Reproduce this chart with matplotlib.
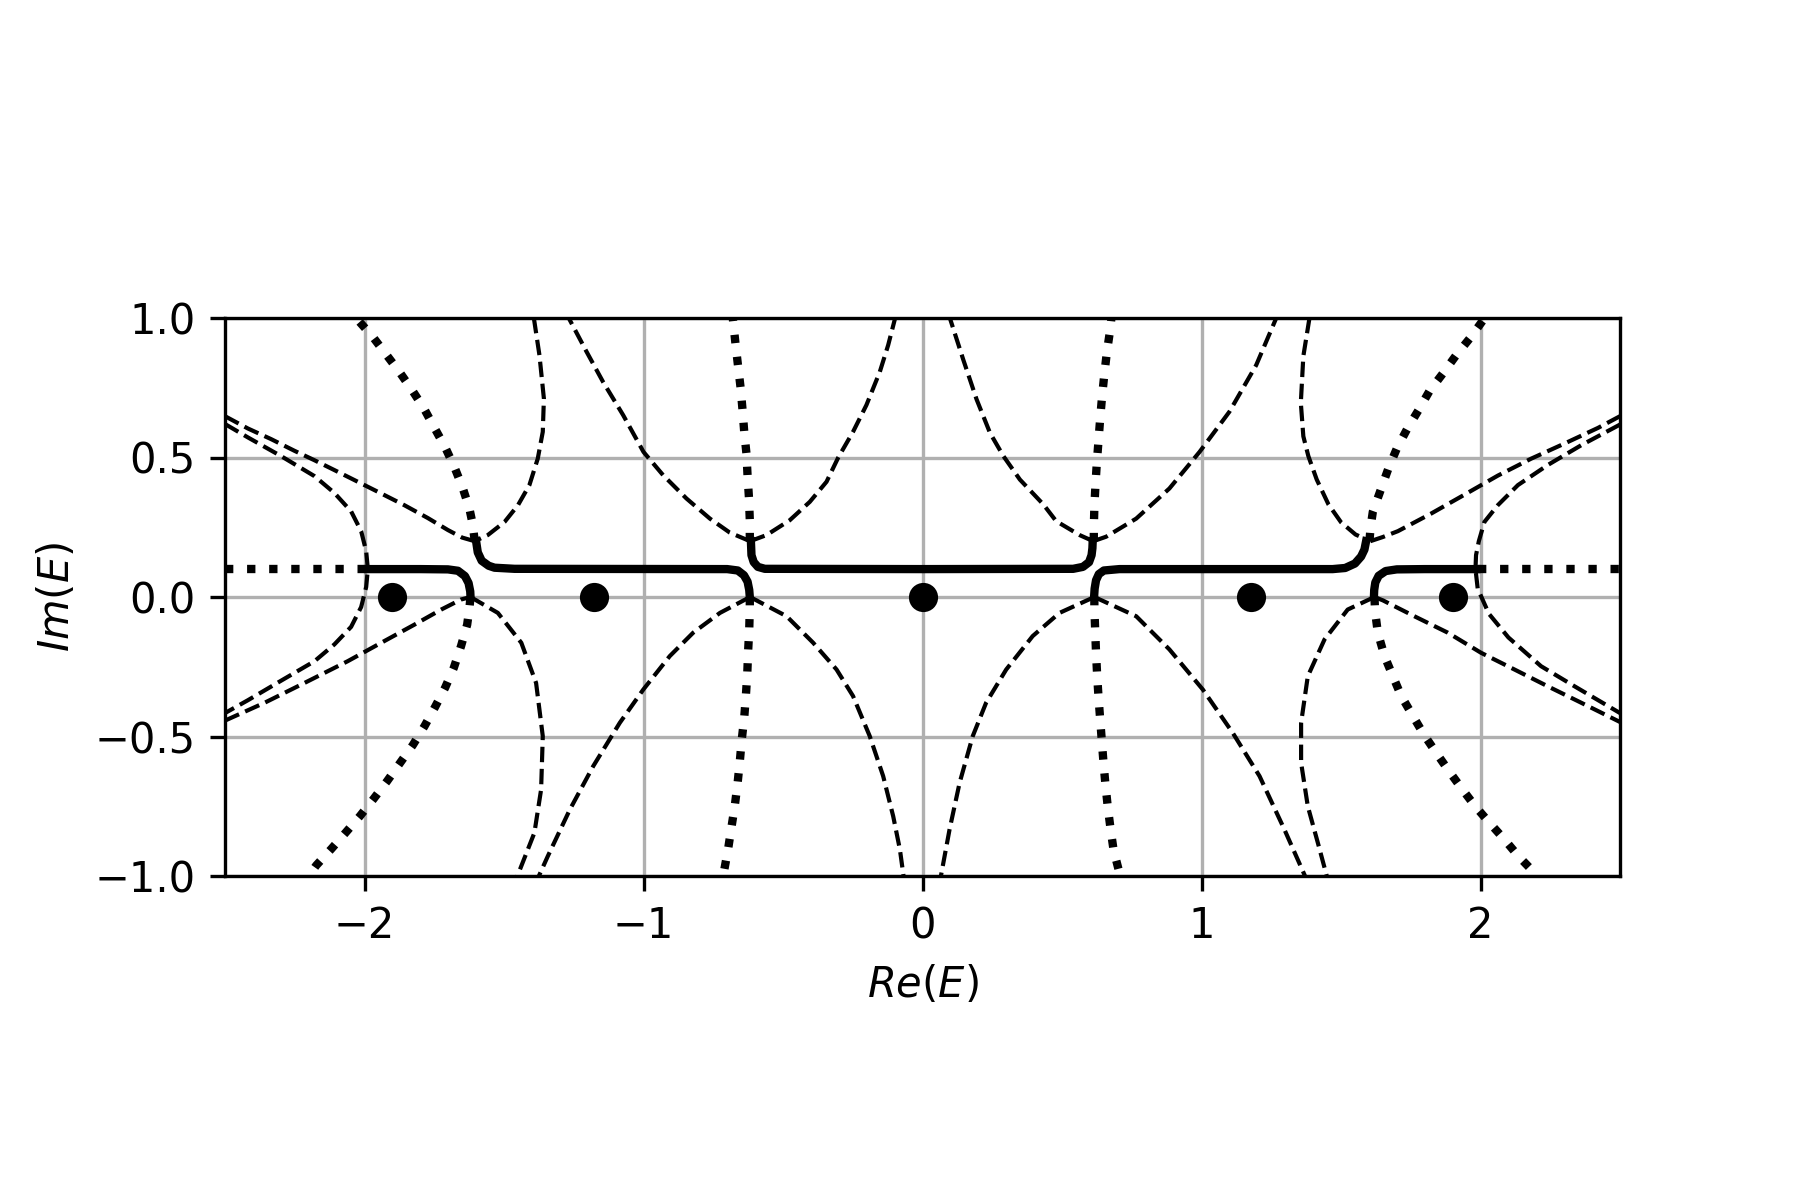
import matplotlib
matplotlib.use("Agg")
import matplotlib.pyplot as plt

# ---------------- data ----------------
# eigenvalue dots (on the real axis)
dots_x = [-1.902, -1.176, 0.0, 1.176, 1.902]
dots_y = [0.0, 0.0, 0.0, 0.0, 0.0]

# solid curve pieces
s1_x = [-1.985, -1.80, -1.701, -1.665, -1.640, -1.627, -1.621, -1.620]
s1_y = [0.100, 0.100, 0.099, 0.094, 0.075, 0.050, 0.020, 0.000]
s2_x = [-1.600, -1.594, -1.580, -1.555, -1.534, -1.462, -0.700, -0.662, -0.640, -0.627, -0.621, -0.619]
s2_y = [0.200, 0.160, 0.130, 0.112, 0.105, 0.101, 0.100, 0.095, 0.078, 0.055, 0.025, 0.000]
s3_x = [-0.615, -0.613, -0.605, -0.590, -0.565, 0.0, 0.540, 0.575, 0.597, 0.606, 0.609, 0.610]
s3_y = [0.200, 0.150, 0.125, 0.108, 0.101, 0.100, 0.101, 0.108, 0.125, 0.150, 0.175, 0.200]
s4_x = [0.615, 0.617, 0.622, 0.632, 0.650, 0.706, 1.470, 1.515, 1.550, 1.572, 1.584, 1.590]
s4_y = [0.000, 0.030, 0.060, 0.082, 0.095, 0.100, 0.100, 0.104, 0.120, 0.145, 0.170, 0.200]
s5_x = [1.618, 1.619, 1.623, 1.635, 1.660, 1.700, 1.800, 1.985]
s5_y = [0.000, 0.025, 0.052, 0.076, 0.093, 0.099, 0.100, 0.100]

# dotted curves
dh_left_x = [-2.5, -1.99]
dh_left_y = [0.1, 0.1]
dh_right_x = [1.99, 2.5]
dh_right_y = [0.1, 0.1]
du1_x = [-1.605, -1.612, -1.624, -1.648, -1.677, -1.710, -1.749, -1.787, -1.829, -1.875, -1.922, -1.970, -2.030]
du1_y = [0.200, 0.260, 0.317, 0.391, 0.464, 0.535, 0.606, 0.676, 0.741, 0.807, 0.869, 0.932, 1.000]
du2_x = [-0.619, -0.619, -0.622, -0.627, -0.631, -0.639, -0.645, -0.652, -0.661, -0.670, -0.680]
du2_y = [0.200, 0.275, 0.355, 0.434, 0.514, 0.592, 0.670, 0.750, 0.827, 0.905, 1.000]
du3_x = [0.614, 0.614, 0.616, 0.620, 0.625, 0.631, 0.637, 0.644, 0.652, 0.661, 0.673, 0.677]
du3_y = [0.200, 0.246, 0.323, 0.403, 0.484, 0.562, 0.642, 0.723, 0.801, 0.879, 0.960, 1.000]
du4_x = [1.602, 1.606, 1.614, 1.642, 1.670, 1.700, 1.737, 1.778, 1.817, 1.865, 1.913, 1.964, 2.015]
du4_y = [0.200, 0.250, 0.305, 0.383, 0.461, 0.532, 0.602, 0.670, 0.738, 0.801, 0.867, 0.930, 1.000]
dl1_x = [-1.620, -1.624, -1.632, -1.654, -1.680, -1.711, -1.747, -1.785, -1.827, -1.872, -1.919, -1.967, -2.017, -2.068, -2.119, -2.173, -2.200]
dl1_y = [0.000, -0.040, -0.099, -0.176, -0.254, -0.325, -0.394, -0.463, -0.531, -0.594, -0.660, -0.723, -0.786, -0.845, -0.903, -0.962, -1.000]
dl2_x = [-0.619, -0.619, -0.621, -0.625, -0.628, -0.633, -0.639, -0.648, -0.655, -0.663, -0.673, -0.685, -0.697, -0.712, -0.714]
dl2_y = [0.000, -0.039, -0.116, -0.194, -0.274, -0.353, -0.433, -0.513, -0.592, -0.670, -0.750, -0.827, -0.905, -0.986, -1.000]
dl3_x = [0.616, 0.616, 0.619, 0.622, 0.626, 0.631, 0.637, 0.643, 0.649, 0.656, 0.664, 0.674, 0.685, 0.706, 0.707]
dl3_y = [0.000, -0.039, -0.122, -0.200, -0.281, -0.361, -0.441, -0.520, -0.597, -0.676, -0.752, -0.831, -0.908, -0.989, -1.000]
dl4_x = [1.620, 1.622, 1.632, 1.656, 1.686, 1.716, 1.758, 1.797, 1.841, 1.887, 1.933, 1.981, 2.032, 2.084, 2.136, 2.191, 2.202]
dl4_y = [0.000, -0.050, -0.128, -0.212, -0.284, -0.355, -0.427, -0.493, -0.558, -0.624, -0.687, -0.750, -0.809, -0.867, -0.929, -0.986, -1.000]

# dashed curves (upper half)
a_left_x = [-2.5, -2.418, -2.335, -2.251, -2.179, -2.096, -2.012, -1.940, -1.857, -1.773, -1.701, -1.650, -1.605]
a_left_y = [0.648, 0.604, 0.566, 0.524, 0.490, 0.449, 0.407, 0.371, 0.329, 0.283, 0.240, 0.213, 0.200]
a_right_x = [1.605, 1.650, 1.704, 1.823, 1.943, 2.062, 2.182, 2.301, 2.421, 2.5]
a_right_y = [0.200, 0.215, 0.236, 0.299, 0.367, 0.435, 0.496, 0.550, 0.606, 0.648]
u_left_x = [-1.393, -1.373, -1.357, -1.361, -1.379, -1.409, -1.450, -1.498, -1.558, -1.605]
u_left_y = [1.000, 0.867, 0.711, 0.592, 0.496, 0.401, 0.329, 0.269, 0.222, 0.200]
u_right_x = [1.387, 1.365, 1.356, 1.365, 1.383, 1.413, 1.455, 1.500, 1.552, 1.605]
u_right_y = [1.000, 0.863, 0.696, 0.576, 0.505, 0.421, 0.332, 0.268, 0.224, 0.200]
i1_x = [-0.618, -0.691, -0.762, -0.846, -0.930, -1.000, -1.073, -1.145, -1.204, -1.268]
i1_y = [0.200, 0.231, 0.281, 0.353, 0.437, 0.520, 0.652, 0.771, 0.879, 1.000]
i2_x = [-0.618, -0.559, -0.476, -0.404, -0.344, -0.302, -0.249, -0.201, -0.153, -0.123, -0.098]
i2_y = [0.200, 0.222, 0.275, 0.341, 0.413, 0.500, 0.592, 0.688, 0.807, 0.903, 1.000]
i3_x = [0.612, 0.563, 0.479, 0.433, 0.349, 0.290, 0.242, 0.194, 0.146, 0.098]
i3_y = [0.200, 0.222, 0.272, 0.332, 0.421, 0.505, 0.588, 0.708, 0.851, 1.000]
i4_x = [0.612, 0.658, 0.766, 0.885, 0.993, 1.100, 1.196, 1.268]
i4_y = [0.200, 0.216, 0.281, 0.389, 0.520, 0.664, 0.831, 1.000]

# dashed curves (lower half)
a2_left_x = [-2.5, -2.358, -2.215, -2.060, -1.940, -1.821, -1.725, -1.654, -1.620]
a2_left_y = [-0.443, -0.379, -0.308, -0.230, -0.164, -0.099, -0.045, -0.009, 0.000]
a2_right_x = [1.620, 1.650, 1.763, 1.883, 2.002, 2.122, 2.241, 2.361, 2.5]
a2_right_y = [0.000, -0.012, -0.069, -0.128, -0.200, -0.260, -0.320, -0.379, -0.448]
v_left_x = [-1.620, -1.522, -1.438, -1.385, -1.361, -1.367, -1.391, -1.452]
v_left_y = [0.000, -0.057, -0.164, -0.308, -0.499, -0.690, -0.845, -1.000]
v_right_x = [1.620, 1.524, 1.441, 1.381, 1.357, 1.357, 1.381, 1.417, 1.449]
v_right_y = [0.000, -0.045, -0.152, -0.284, -0.451, -0.594, -0.750, -0.881, -1.000]
j1_x = [-0.618, -0.726, -0.822, -0.906, -1.001, -1.085, -1.180, -1.264, -1.343, -1.375]
j1_y = [0.000, -0.057, -0.128, -0.212, -0.332, -0.451, -0.606, -0.762, -0.929, -1.000]
j2_x = [-0.618, -0.487, -0.392, -0.308, -0.249, -0.189, -0.141, -0.105, -0.081, -0.068]
j2_y = [0.000, -0.069, -0.164, -0.260, -0.355, -0.499, -0.642, -0.786, -0.905, -1.000]
j3_x = [0.616, 0.491, 0.395, 0.300, 0.228, 0.180, 0.133, 0.097, 0.066]
j3_y = [0.000, -0.057, -0.140, -0.260, -0.379, -0.499, -0.666, -0.833, -1.000]
j4_x = [0.616, 0.766, 0.885, 1.005, 1.112, 1.208, 1.297, 1.371]
j4_y = [0.000, -0.069, -0.188, -0.332, -0.487, -0.642, -0.833, -1.000]

# dashed curves crossing Im(E)=0.1 near |Re(E)|=2
b_left_x = [-2.5, -2.418, -2.299, -2.179, -2.108, -2.048, -2.012, -1.994, -1.988, -1.994, -2.012, -2.048, -2.108, -2.179, -2.299, -2.418, -2.5]
b_left_y = [0.620, 0.572, 0.505, 0.433, 0.373, 0.307, 0.236, 0.164, 0.100, 0.036, -0.036, -0.107, -0.170, -0.230, -0.300, -0.370, -0.416]
b_right_x = [2.5, 2.361, 2.241, 2.134, 2.062, 2.014, 1.994, 1.984, 1.982, 1.990, 2.030, 2.100, 2.217, 2.337, 2.5]
b_right_y = [0.618, 0.544, 0.473, 0.401, 0.329, 0.269, 0.200, 0.150, 0.100, 0.030, -0.060, -0.145, -0.248, -0.320, -0.416]

# ---------------- drawing ----------------
fig = plt.figure(figsize=(6, 4), dpi=300)
ax = fig.add_axes([0.125, 0.27, 0.775, 0.465])

dashed = [(a_left_x, a_left_y), (a_right_x, a_right_y), (u_left_x, u_left_y), (u_right_x, u_right_y),
          (i1_x, i1_y), (i2_x, i2_y), (i3_x, i3_y), (i4_x, i4_y),
          (a2_left_x, a2_left_y), (a2_right_x, a2_right_y), (v_left_x, v_left_y), (v_right_x, v_right_y),
          (j1_x, j1_y), (j2_x, j2_y), (j3_x, j3_y), (j4_x, j4_y),
          (b_left_x, b_left_y), (b_right_x, b_right_y)]
for xs, ys in dashed:
    ax.plot(xs, ys, color='black', linestyle='--', linewidth=1.0)

dotted = [(dh_left_x, dh_left_y), (dh_right_x, dh_right_y),
          (du1_x, du1_y), (du2_x, du2_y), (du3_x, du3_y), (du4_x, du4_y),
          (dl1_x, dl1_y), (dl2_x, dl2_y), (dl3_x, dl3_y), (dl4_x, dl4_y)]
for xs, ys in dotted:
    ax.plot(xs, ys, color='black', linestyle=':', linewidth=2.0)

solid = [(s1_x, s1_y), (s2_x, s2_y), (s3_x, s3_y), (s4_x, s4_y), (s5_x, s5_y)]
for xs, ys in solid:
    ax.plot(xs, ys, color='black', linestyle='-', linewidth=2.0)

ax.plot(dots_x, dots_y, 'ko')

ax.set_xlim(-2.5, 2.5)
ax.set_ylim(-1.0, 1.0)
ax.set_aspect('equal')
ax.set_xticks([-2, -1, 0, 1, 2])
ax.set_yticks([-1.0, -0.5, 0.0, 0.5, 1.0])
ax.grid(True)
ax.set_xlabel('$Re(E)$')
ax.set_ylabel('$Im(E)$')

fig.savefig('out.png', dpi=300)
